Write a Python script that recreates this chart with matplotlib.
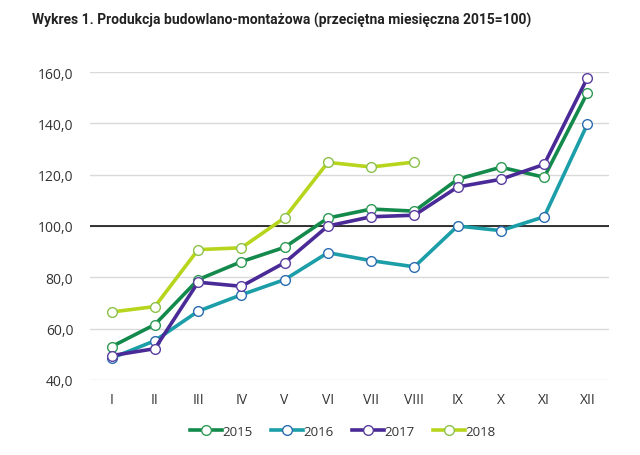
import matplotlib
matplotlib.use("Agg")
import matplotlib.pyplot as plt

months = ["I", "II", "III", "IV", "V", "VI", "VII", "VIII", "IX", "X", "XI", "XII"]
y2015 = [53.0, 61.6, 79.1, 86.1, 91.7, 103.1, 106.6, 105.8, 118.2, 122.9, 119.0, 151.9]
y2016 = [48.5, 55.3, 66.8, 73.2, 79.1, 89.6, 86.5, 84.1, 100.0, 98.2, 103.6, 139.7]
y2017 = [49.5, 52.2, 78.1, 76.5, 85.7, 100.0, 103.6, 104.2, 115.2, 118.2, 124.0, 157.7]
y2018 = [66.5, 68.6, 90.8, 91.5, 103.2, 124.8, 123.0, 124.9]
yticks = [40, 60, 80, 100, 120, 140, 160]

series = [
    ("2015", y2015, "#138a4c", "#2e9a55"),
    ("2016", y2016, "#1c9ea8", "#2a6cb0"),
    ("2017", y2017, "#4a2a96", "#5a3ea0"),
    ("2018", y2018, "#b7d51c", "#8cc04a"),
]

plt.rcParams['font.family'] = ['Open Sans', 'DejaVu Sans']

fig = plt.figure(figsize=(6.4, 4.56), dpi=100)
ax = fig.add_axes([0.1406, 0.1645, 0.811, 0.6754])

x = list(range(len(months)))
ax.axhline(100, color="black", lw=1.1, zorder=2)
for name, vals, col, edge in series:
    ax.plot(x[:len(vals)], vals, color=col, lw=2.6, marker="o", ms=7,
            mfc="white", mec=edge, mew=1.0, label=name, zorder=3)

ax.set_xlim(-0.5, 11.5)
ax.set_ylim(40, 160)
ax.set_yticks(yticks)
ax.set_yticklabels([f"{v:.1f}".replace(".", ",") for v in yticks])
ax.set_xticks(x)
ax.set_xticklabels(months)
ax.grid(axis="y", color="#d9d9d9", lw=1.0)
ax.set_axisbelow(True)
for s in ax.spines.values():
    s.set_visible(False)
ax.tick_params(length=0, labelsize=10, colors="#333333")
ax.tick_params(axis="y", pad=12)
ax.tick_params(axis="x", pad=9)

fig.text(0.05, 0.955, "Wykres 1. Produkcja budowlano-montażowa (przeciętna miesięczna 2015=100)",
         fontsize=10, fontweight="bold", color="#222222", va="center", ha="left",
         family=["Roboto", "DejaVu Sans"])

ax.legend(loc="center", bbox_to_anchor=(0.487, -0.166), ncol=4, frameon=False,
          fontsize=9.5, handlelength=2.4, handletextpad=0.05, columnspacing=1.4,
          labelcolor="#333333")

fig.savefig("out.png", dpi=100)
